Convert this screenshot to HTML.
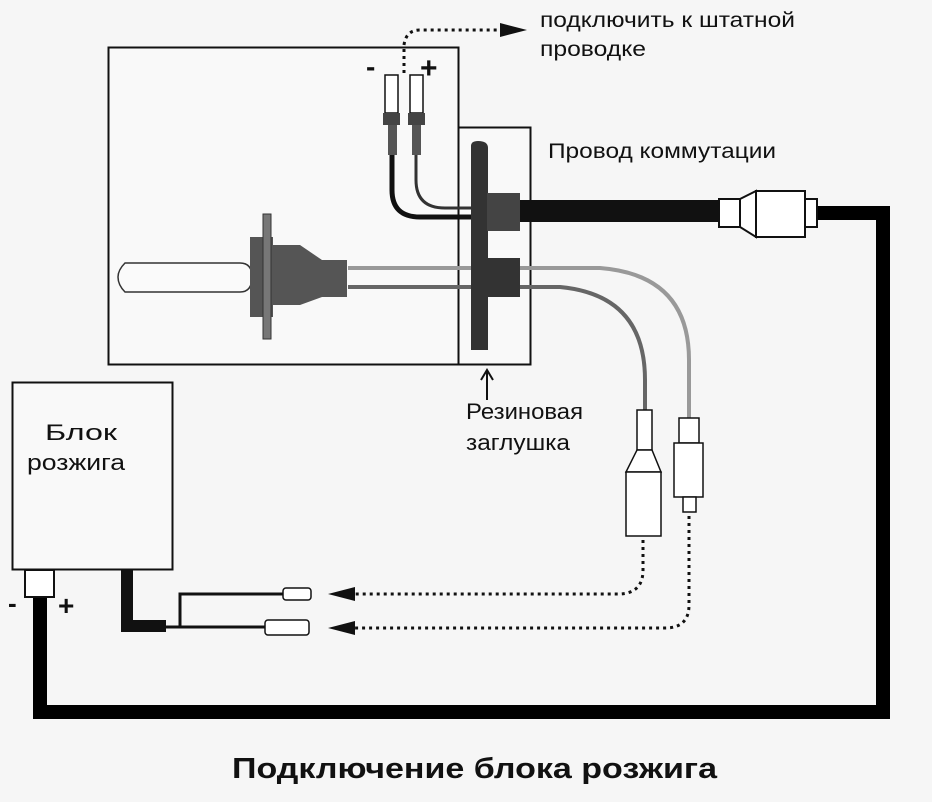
<!DOCTYPE html>
<html><head><meta charset="utf-8"><style>
html,body{margin:0;padding:0;background:#f6f6f6}
svg{display:block}
text{font-family:"Liberation Sans",sans-serif;fill:#111}
</style></head><body>
<svg width="932" height="802" viewBox="0 0 932 802" xmlns="http://www.w3.org/2000/svg">
<rect width="932" height="802" fill="#f6f6f6"/>
<rect x="108.5" y="47.5" width="350" height="317" fill="#f9f9f9" stroke="#111" stroke-width="2"/>
<rect x="458.5" y="127.5" width="72" height="237" fill="#f9f9f9" stroke="#111" stroke-width="2"/>
<path d="M520 211 H719" stroke="#111" stroke-width="22" fill="none"/>
<path d="M805 213 H883 V712 H40 V597" stroke="#000" stroke-width="14" fill="none"/>
<rect x="719" y="199" width="21" height="28" fill="#fff" stroke="#111" stroke-width="2"/>
<path d="M740 199 L756 191 V237 L740 227 Z" fill="#fff" stroke="#111" stroke-width="2"/>
<rect x="756" y="191" width="49" height="46" fill="#fff" stroke="#111" stroke-width="2"/>
<rect x="805" y="199" width="12" height="28" fill="#fff" stroke="#111" stroke-width="2"/>
<path d="M348 268 H600 Q689 275 689 360 V418" stroke="#999" stroke-width="4" fill="none"/>
<path d="M348 287 H560 Q645 295 645 380 V410" stroke="#666" stroke-width="4" fill="none"/>
<path d="M471 350 V146 Q471 141 478 141 Q488 141 488 148 V350 Z" fill="#333"/>
<rect x="487" y="193" width="33" height="38" fill="#444"/>
<rect x="487" y="258" width="33" height="39" fill="#333"/>
<path d="M392 155 V190 Q392 217 420 217 H471" stroke="#111" stroke-width="5" fill="none"/>
<path d="M416 155 V180 Q416 208 445 208 H471" stroke="#333" stroke-width="3" fill="none"/>
<rect x="385" y="75" width="13" height="38" fill="#fff" stroke="#111" stroke-width="1.5"/>
<rect x="383" y="113" width="17" height="12" fill="#444"/>
<rect x="388" y="125" width="9" height="30" fill="#555"/>
<rect x="410" y="75" width="13" height="38" fill="#fff" stroke="#111" stroke-width="1.5"/>
<rect x="408" y="113" width="17" height="12" fill="#444"/>
<rect x="412" y="125" width="9" height="30" fill="#555"/>
<text x="366" y="76" font-size="28" font-weight="bold">-</text>
<text x="420" y="78" font-size="30" font-weight="bold">+</text>
<path d="M404 73 V45 Q406 30 420 30 H500" stroke="#111" stroke-width="3" stroke-dasharray="3 4" fill="none"/>
<path d="M500 23 L527 30 L500 37 Z" fill="#111"/>
<path d="M125 263 H240 Q252 263 252 277 Q252 292 240 292 H125 Q118 285 118 277 Q118 270 125 263 Z" fill="#fafafa" stroke="#333" stroke-width="1.5"/>
<rect x="250" y="237" width="23" height="80" fill="#555"/>
<rect x="263" y="214" width="8" height="125" fill="#777" stroke="#333"/>
<path d="M273 245 H300 L322 260 H347 V297 H322 L300 305 H273 Z" fill="#555"/>
<path d="M487 400 V372" stroke="#111" stroke-width="2"/>
<path d="M481 380 L487 370 L493 380" stroke="#111" stroke-width="2" fill="none"/>
<rect x="637" y="410" width="15" height="40" fill="#fff" stroke="#111" stroke-width="1.5"/>
<path d="M637 450 H652 L661 472 H626 Z" fill="#fff" stroke="#111" stroke-width="1.5"/>
<rect x="626" y="472" width="35" height="64" fill="#fff" stroke="#111" stroke-width="1.5"/>
<rect x="679" y="418" width="20" height="25" fill="#fff" stroke="#111" stroke-width="1.5"/>
<rect x="674" y="443" width="29" height="54" fill="#fff" stroke="#111" stroke-width="1.5"/>
<rect x="683" y="497" width="13" height="15" fill="#fff" stroke="#111" stroke-width="1.5"/>
<path d="M643 540 V570 Q643 594 618 594 H355" stroke="#111" stroke-width="3" stroke-dasharray="3 4" fill="none"/>
<path d="M689 516 V605 Q689 628 665 628 H355" stroke="#111" stroke-width="3" stroke-dasharray="3 4" fill="none"/>
<path d="M355 587 L328 594 L355 601 Z" fill="#111"/>
<path d="M355 621 L328 628 L355 635 Z" fill="#111"/>
<rect x="12.5" y="382.5" width="160" height="187" fill="#f9f9f9" stroke="#111" stroke-width="2"/>
<rect x="25" y="570" width="29" height="27" fill="#fff" stroke="#111" stroke-width="2"/>
<text x="8" y="612" font-size="26" font-weight="bold">-</text>
<text x="58" y="615" font-size="28" font-weight="bold">+</text>
<path d="M127 569 V626 H166" stroke="#111" stroke-width="12" fill="none"/>
<path d="M166 627 H265 M180 627 V594 H283" stroke="#111" stroke-width="3" fill="none"/>
<rect x="283" y="588" width="28" height="12" rx="3" fill="#fff" stroke="#111" stroke-width="1.5"/>
<rect x="265" y="620" width="44" height="15" rx="3" fill="#fff" stroke="#111" stroke-width="1.5"/>
<text x="45" y="440" font-size="22" textLength="72" lengthAdjust="spacingAndGlyphs">Блок</text>
<text x="27" y="470" font-size="22" textLength="98" lengthAdjust="spacingAndGlyphs">розжига</text>
<text x="466" y="419" font-size="22" textLength="117" lengthAdjust="spacingAndGlyphs">Резиновая</text>
<text x="466" y="450" font-size="22" textLength="104" lengthAdjust="spacingAndGlyphs">заглушка</text>
<text x="540" y="27" font-size="21" textLength="255" lengthAdjust="spacingAndGlyphs">подключить к штатной</text>
<text x="540" y="56" font-size="21" textLength="106" lengthAdjust="spacingAndGlyphs">проводке</text>
<text x="548" y="158" font-size="21" textLength="228" lengthAdjust="spacingAndGlyphs">Провод коммутации</text>
<text x="232" y="778" font-size="29" font-weight="bold" fill="#222" textLength="485" lengthAdjust="spacingAndGlyphs">Подключение блока розжига</text>
</svg>
</body></html>
